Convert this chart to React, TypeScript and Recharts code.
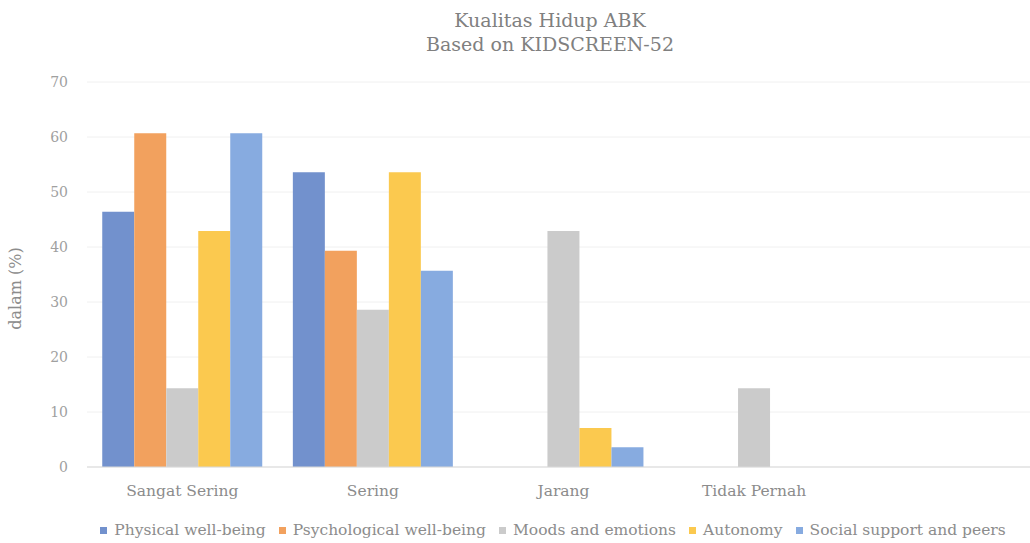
import { BarChart, Bar, XAxis, YAxis, CartesianGrid } from 'recharts'

const categories = ['Sangat Sering', 'Sering', 'Jarang', 'Tidak Pernah', '']
const physical = [46.4, 53.6, 0, 0, null]
const psychological = [60.7, 39.3, 0, 0, null]
const moods = [14.3, 28.6, 42.9, 14.3, null]
const autonomy = [42.9, 53.6, 7.1, 0, null]
const social = [60.7, 35.7, 3.6, 0, null]
const yTicks = [0, 10, 20, 30, 40, 50, 60, 70]

const series = [
  { key: 'physical', name: 'Physical well-being', color: '#7291cd' },
  { key: 'psychological', name: 'Psychological well-being', color: '#f2a15e' },
  { key: 'moods', name: 'Moods and emotions', color: '#cbcbcb' },
  { key: 'autonomy', name: 'Autonomy', color: '#fbc94f' },
  { key: 'social', name: 'Social support and peers', color: '#87abe0' },
]

const data = categories.map((c, i) => ({
  cat: c,
  physical: physical[i],
  psychological: psychological[i],
  moods: moods[i],
  autonomy: autonomy[i],
  social: social[i],
}))

const FONT = '"DejaVu Serif", serif'

// axis title sits a bit below the plot's middle, like the original
const YTitle = ({ viewBox }: any) => {
  const x = viewBox.x + 15
  const y = viewBox.y + viewBox.height / 2 + 14
  return (
    <text x={x} y={y} transform={`rotate(-90, ${x}, ${y})`} textAnchor="middle" dominantBaseline="central"
      fill="#8c8c8c" fontSize={16} fontFamily={FONT}>
      dalam (%)
    </text>
  )
}

export default function App() {
  return (
    <div style={{ position: 'fixed', left: 0, top: 0, width: 1030, height: 543, overflow: 'hidden', background: '#fff', fontFamily: FONT }}>
      <div style={{ position: 'absolute', left: 0, width: 1100, top: 8, textAlign: 'center', fontSize: 19, lineHeight: '24px', color: '#808080' }}>
        Kualitas Hidup ABK<br />Based on KIDSCREEN-52
      </div>
      <BarChart
        width={1050}
        height={543}
        data={data}
        margin={{ top: 82, right: 10, left: 0, bottom: 46 }}
        barCategoryGap="8%"
        barGap={0}
      >
        <CartesianGrid vertical={false} stroke="#f0f0f0" />
        <XAxis
          dataKey="cat"
          axisLine={{ stroke: '#d9d9d9' }}
          tickLine={false}
          tickMargin={12}
          tick={{ fill: '#8c8c8c', fontSize: 15.5, fontFamily: FONT }}
          interval={0}
        />
        <YAxis
          width={87}
          domain={[0, 70]}
          ticks={yTicks}
          axisLine={false}
          tickLine={false}
          tickMargin={13}
          tick={{ fill: '#a0a0a0', fontSize: 14, fontFamily: FONT }}
          label={<YTitle />}
        />
        {series.map((s) => (
          <Bar key={s.key} dataKey={s.key} name={s.name} fill={s.color} isAnimationActive={false} />
        ))}
      </BarChart>
      <div style={{ position: 'absolute', left: 0, width: 1106, top: 521, display: 'flex', justifyContent: 'center', fontSize: 15.5, lineHeight: '18px', color: '#8c8c8c' }}>
        {series.map((s, i) => (
          <div key={s.key} style={{ display: 'flex', alignItems: 'center', marginRight: i < series.length - 1 ? 13 : 0 }}>
            <span style={{ display: 'inline-block', width: 7, height: 7, background: s.color, marginRight: 7 }} />
            <span>{s.name}</span>
          </div>
        ))}
      </div>
    </div>
  )
}
